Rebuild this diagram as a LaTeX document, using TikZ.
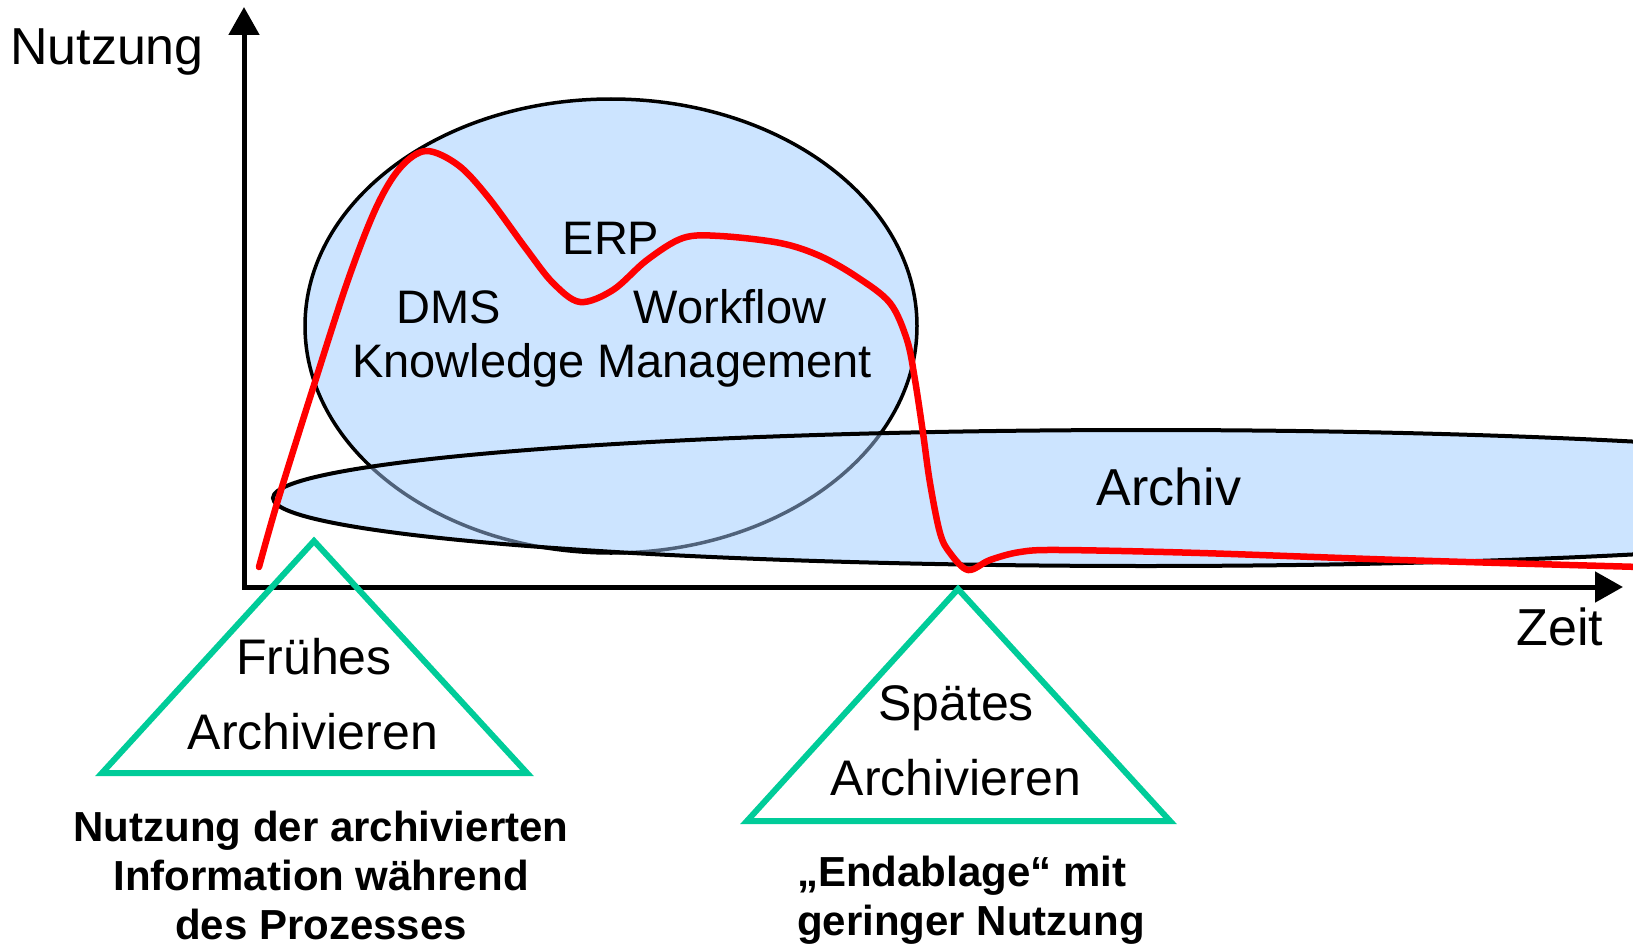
\documentclass[tikz,border=0pt]{standalone}
\usepackage{fontspec}
\setmainfont{Liberation Sans}
\usetikzlibrary{arrows.meta}
\definecolor{bubble}{RGB}{204,228,255}
\definecolor{phase}{RGB}{0,204,153}
\definecolor{behind}{RGB}{80,98,122}

\begin{document}
\begin{tikzpicture}[x=1pt, y=-1pt,
    systemtext/.style={inner sep=0pt, anchor=base, font=\fontsize{47}{56}\selectfont},
    axislabel/.style={inner sep=0pt, anchor=base, font=\fontsize{52}{62}\selectfont},
    phasetext/.style={inner sep=0pt, anchor=base, font=\fontsize{50}{60}\selectfont},
    note/.style={inner sep=0pt, font=\bfseries\fontsize{42}{49}\selectfont},
    phasebox/.style={draw=phase, line width=6pt, line join=miter},
    axisline/.style={line width=5pt, {Triangle[length=28pt,width=30pt]}-{Triangle[length=28pt,width=30pt]}},
    usage/.style={draw=red, line width=6.5pt, line cap=round, line join=round}
  ]
  \useasboundingbox (0,0) rectangle (1633,947);
  \clip (0,0) rectangle (1633,947);

  \coordinate (origin) at (244,587);
  \coordinate (ytip) at (244,7);
  \coordinate (xtip) at (1623,587);
  \coordinate (systems) at (611,326);
  \coordinate (archive) at (1146,498);

  % the two areas
  \fill[bubble] (systems) ellipse [x radius=306, y radius=227];
  \draw[line width=3.5pt] (systems) ellipse [x radius=306, y radius=227];
  \fill[bubble] (archive) ellipse [x radius=873, y radius=68];
  \begin{scope}
    \clip (archive) ellipse [x radius=873, y radius=68];
    \draw[behind, line width=3.5pt] (systems) ellipse [x radius=306, y radius=227];
  \end{scope}
  \draw[line width=4pt] (archive) ellipse [x radius=873, y radius=68];

  % axes
  \draw[axisline] (ytip) -- (origin) -- (xtip);
  \node[axislabel] (ylabel) at (107,65) {Nutzung};
  \node[axislabel] (xlabel) at (1560,645) {Zeit};

  \node[systemtext] (erp) at (611,254) {ERP};
  \node[systemtext] (dms) at (449,323) {DMS};
  \node[systemtext] (workflow) at (730,323) {Workflow};
  \node[systemtext] (km) at (612,377) {Knowledge Management};
  \node[axislabel] (archiv) at (1169,505) {Archiv};

  % usage over time
  \draw[usage] plot[smooth, tension=0.55] coordinates {
    (259,567) (278,500) (314,385) (348,280) (376,208) (400,168) (426,151)
    (458,165) (488,197) (527,250) (553,283) (580,302) (613,290) (647,260)
    (683,238) (720,236) (780,243) (820,256) (857,277) (890,303) (907,340)
    (915,380) (923,433) (930,483) (940,533) (950,553) (968,570) (990,560)
    (1020,552) (1060,550) (1200,553) (1400,560) (1640,567)};

  % archiving phases
  \coordinate (early) at (314,541);
  \coordinate (late) at (958,589);
  \draw[phasebox] (early) -- (102,773) -- (527,773) -- cycle;
  \draw[phasebox] (late) -- (747,821) -- (1170,821) -- cycle;
  \node[phasetext] (early1) at (314,674) {Frühes};
  \node[phasetext] (early2) at (313,749) {Archivieren};
  \node[phasetext] (late1) at (956,720) {Spätes};
  \node[phasetext] (late2) at (956,795) {Archivieren};

  \node[note, anchor=north, align=center] (earlynote) at (321,811)
    {Nutzung der archivierten\\Information während\\des Prozesses};
  \node[note, anchor=north west, align=left] (latenote) at (797,856)
    {„Endablage“ mit\\geringer Nutzung};
\end{tikzpicture}
\end{document}
